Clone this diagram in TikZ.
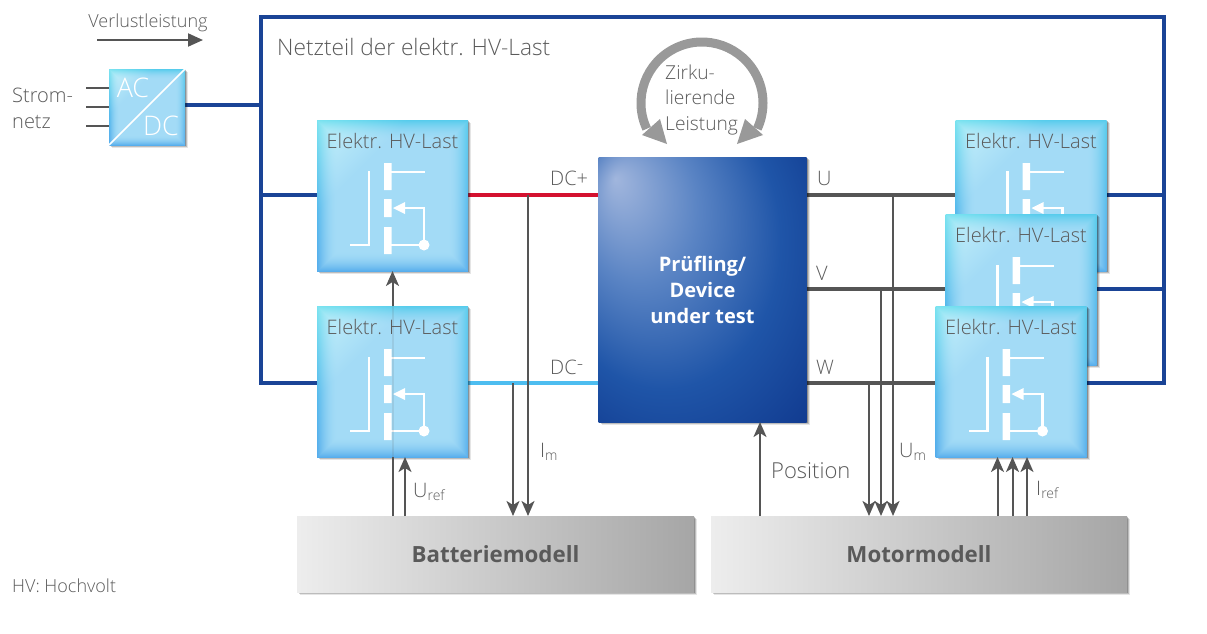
\documentclass[tikz,border=0pt]{standalone}
\usepackage{fontspec}
\setmainfont{Open Sans}
\newfontfamily\lightf{Open Sans Light}
\usetikzlibrary{arrows.meta,shadows}
\pgfdeclarelayer{wires}
\pgfsetlayers{wires,main}
\definecolor{txt}{HTML}{5A5A5A}
\definecolor{hvblue}{HTML}{1A4496}
\definecolor{dcred}{HTML}{D4112F}
\definecolor{dclight}{HTML}{4DBDF0}
\definecolor{wire}{HTML}{555555}
\definecolor{ring}{HTML}{999999}
\definecolor{dA}{HTML}{A1B6DD}
\definecolor{dB}{HTML}{5A84C4}
\definecolor{dC}{HTML}{1F55A8}
\definecolor{dD}{HTML}{10398E}
\definecolor{dE}{HTML}{0A297C}
\pgfdeclarefunctionalshading{boxshade}{\pgfpoint{0bp}{0bp}}{\pgfpoint{100bp}{100bp}}{}{
  exch 25 sub 2 mul exch 25 sub 2 mul
  dup 3 1 roll
  2 copy 100 exch sub add 60 div 1 exch sub dup 0 lt {pop 0} if
  3 1 roll
  50 sub abs exch 50 sub abs
  2 copy lt {exch} if pop
  36 sub 14 div dup 0 lt {pop 0} if dup mul
  2 copy -0.30 mul exch 0.14 mul add 0.64 add
  3 1 roll
  2 copy 5 index 100 div 0.12 mul -0.18 add mul exch 0.09 mul add 0.86 add
  3 1 roll
  2 copy -0.04 mul exch 0.015 mul add 0.965 add
  3 1 roll pop pop
  4 -1 roll pop
}
\pgfdeclareradialshading{dutshade}{\pgfpoint{-21bp}{21bp}}{
  color(0bp)=(dA);
  color(14bp)=(dB);
  color(28bp)=(dC);
  color(42bp)=(dD);
  color(50bp)=(dE)
}
\tikzset{
  softshadow/.style={
    general shadow={fill=black,opacity=.10,shadow xshift=3pt,shadow yshift=-3pt},
    general shadow={fill=black,opacity=.18,shadow xshift=2pt,shadow yshift=-2pt},
    general shadow={fill=black,opacity=.25,shadow xshift=1pt,shadow yshift=-1pt}},
  blockbox/.style={rectangle,inner sep=0pt,outer sep=0pt,softshadow,shading=boxshade},
  hvbox/.style={blockbox,minimum width=151pt,minimum height=151pt},
  modelbox/.style={rectangle,inner sep=0pt,outer sep=0pt,softshadow,minimum height=76pt,
    left color=black!7,right color=black!35,text=txt,font=\fontsize{22.3}{26}\selectfont\bfseries},
  dutbox/.style={rectangle,inner sep=0pt,outer sep=0pt,softshadow,shading=dutshade,
    minimum width=208pt,minimum height=265pt,text=white,align=center,
    font=\fontsize{20}{26}\selectfont\bfseries},
  framebox/.style={rectangle,draw=hvblue,line width=4pt,inner sep=0pt,outer sep=0pt,
    minimum width=903pt,minimum height=366pt},
  hvline/.style={draw=hvblue,line width=4pt},
  redline/.style={draw=dcred,line width=4pt},
  lightline/.style={draw=dclight,line width=4pt},
  phase/.style={draw=wire,line width=4pt},
  stub/.style={draw=wire,line width=1.5pt},
  sig/.style={draw=wire,line width=2pt},
  sigarrow/.style={sig,-{Stealth[length=15pt,width=13pt,inset=4pt]}},
  lab/.style={text=txt,inner sep=0pt,font=\lightf\fontsize{20}{26}\selectfont},
  labl/.style={lab,anchor=west,align=left},
  ringarrow/.style={draw=ring,line width=9pt},
  fetline/.style={draw=white,line width=2.2pt},
}
\newcommand{\fetsym}[1]{%
  \begin{scope}[shift={(#1.north west)}]
    \fill[white] (67,43) rectangle (74.5,70) (67,79) rectangle (74.5,97) (67,107) rectangle (74.5,134);
    \draw[fetline] (52,51) -- (52,125) -- (33,125);
    \draw[fetline] (74,52) -- (108,52);
    \draw[fetline] (74,125) -- (107,125) -- (107,88) -- (86,88);
    \fill[white] (76,88) -- (88,82) -- (88,94) -- cycle;
    \fill[white] (107,125) circle[radius=5.5];
  \end{scope}}
\newcommand{\hvlast}[3]{%
  \node[hvbox] (#1) at (#2,#3) {};
  \fetsym{#1}
  \node[lab] (#1t) at ([yshift=-21pt]#1.north) {Elektr. HV-Last};}
\begin{document}
\begin{tikzpicture}[x=1pt,y=-1pt]
\useasboundingbox (0,0) rectangle (1207,633);
\coordinate (jdcp) at (528,195);
\coordinate (jdcm) at (513,383);
\coordinate (ju) at (893,195);
\coordinate (jv) at (881,289);
\coordinate (jw) at (869,383);
\node[dutbox] (dut) at (702.5,289.5) {Prüfling/\\Device\\under test};
\node[blockbox,minimum width=76pt,minimum height=76pt] (acdc) at (147,107) {};
% boxes
\hvlast{lt}{392.5}{195.5}
\hvlast{lb}{392.5}{381.5}
\hvlast{rt}{1031}{195.5}
\hvlast{rm}{1021}{289.5}
\hvlast{rb}{1011}{381.5}
\begin{pgfonlayer}{wires}
\node[framebox] (frame) at (712.5,200) {};
\draw[hvline] (acdc.east |- 0,105) -- (frame.west |- 0,105);
\draw[hvline] (frame.west |- 0,195) -- (lt.west |- 0,195);
\draw[hvline] (frame.west |- 0,383) -- (lb.west |- 0,383);
\draw[redline] (lt.east |- 0,195) -- (dut.west |- 0,195);
\draw[lightline] (lb.east |- 0,383) -- (dut.west |- 0,383);
\draw[phase] (dut.east |- 0,195) -- (rt.west |- 0,195);
\draw[phase] (dut.east |- 0,289) -- (rm.west |- 0,289);
\draw[phase] (dut.east |- 0,383) -- (rb.west |- 0,383);
\draw[hvline] (rt.east |- 0,195) -- (frame.east |- 0,195);
\draw[hvline] (rm.east |- 0,289) -- (frame.east |- 0,289);
\draw[hvline] (rb.east |- 0,383) -- (frame.east |- 0,383);
\end{pgfonlayer}
% AC/DC
\draw[stub] (86,88) -- (acdc.west |- 0,88);
\draw[stub] (86,107) -- (acdc.west);
\draw[stub] (86,126) -- (acdc.west |- 0,126);
\draw[white,line width=1.5pt] (acdc.south west) -- (acdc.north east);
\node[inner sep=0pt,text=white,font=\lightf\fontsize{27}{28}\selectfont] (ac) at (133,88) {AC};
\node[inner sep=0pt,text=white,font=\lightf\fontsize{27}{28}\selectfont] (dc) at (161,126) {DC};
% models
\node[modelbox,minimum width=397pt] (batt) at (495.5,554) {Batteriemodell};
\node[modelbox,minimum width=416pt] (motor) at (919,554) {Motormodell};
% measurement wires
\draw[sigarrow] (jdcp) -- (jdcp |- batt.north);
\draw[sigarrow] (jdcm) -- (jdcm |- batt.north);
\draw[sigarrow] (ju) -- (ju |- motor.north);
\draw[sigarrow] (jv) -- (jv |- motor.north);
\draw[sigarrow] (jw) -- (jw |- motor.north);
\draw[sigarrow] (lb.north) -- (lt.south);
\draw[sig,opacity=.12] (lb.north) -- (lb.south);
\draw[sig] (batt.north -| lb.south) -- (lb.south);
\draw[sigarrow] (batt.north -| 405,0) -- (lb.south -| 405,0);
\draw[sigarrow] (motor.north -| 760,0) -- (dut.south -| 760,0);
\draw[sigarrow] (motor.north -| 997.5,0) -- (rb.south -| 997.5,0);
\draw[sigarrow] (motor.north -| 1012.5,0) -- (rb.south -| 1012.5,0);
\draw[sigarrow] (motor.north -| 1027,0) -- (rb.south -| 1027,0);
% ring
\draw[ringarrow] (702,103) ++(155:61) arc[start angle=155,end angle=385,radius=61];
\fill[ring] (667,144) -- (642,135) -- (660,119) -- cycle;
\fill[ring] (737,144) -- (763,135) -- (745,119) -- cycle;
% loss arrow
\coordinate (lossa) at (97,40);
\coordinate (lossb) at (203,40);
\draw[sig,-{Stealth[length=15pt,width=13pt,inset=0pt]}] (lossa) -- (lossb);
% labels
\node[lab,font=\lightf\fontsize{18}{26}\selectfont] (tv) at (148,23) {Verlustleistung};
\node[labl] (ts) at (12,108) {Strom-\\netz};
\node[labl,font=\lightf\fontsize{22.7}{26}\selectfont] (tn) at (277,47) {Netzteil der elektr. HV-Last};
\node[labl,font=\lightf\fontsize{19.2}{25.5}\selectfont] (tz) at (665,100) {Zirku-\\lierende\\Leistung};
\node[labl] (tdp) at (550,178) {DC+};
\node[labl] (tdm) at (550,367) {DC\raisebox{4pt}{-}};
\node[labl] (tu) at (817,178) {U};
\node[labl] (tvv) at (816,273) {V};
\node[labl] (tw) at (816,367) {W};
\node[labl] (tim) at (540,452) {I\textsubscript{m}};
\node[labl] (tur) at (413,492) {U\textsubscript{ref}};
\node[labl,font=\lightf\fontsize{22}{26}\selectfont] (tp) at (771,471) {Position};
\node[labl] (tum) at (899,452) {U\textsubscript{m}};
\node[labl] (tir) at (1036,490) {I\textsubscript{ref}};
\node[labl,font=\lightf\fontsize{18}{18}\selectfont] (thv) at (12,586) {HV: Hochvolt};
\end{tikzpicture}
\end{document}
